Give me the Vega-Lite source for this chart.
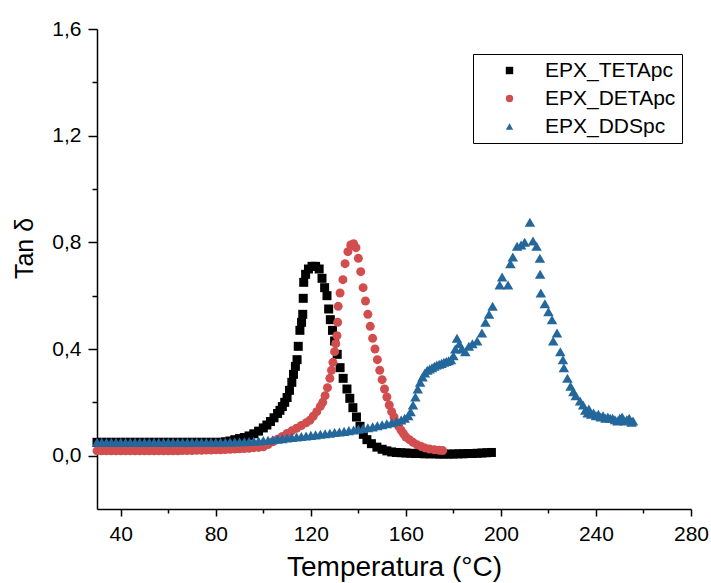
{
  "$schema": "https://vega.github.io/schema/vega-lite/v6.json",
  "autosize": "none",
  "width": 594,
  "height": 480,
  "padding": {"left": 97, "top": 29, "right": 20, "bottom": 74},
  "background": "white",
  "config": {
    "view": {"stroke": null},
    "font": "Liberation Sans",
    "axis": {"domainColor": "black", "domainWidth": 1.5, "tickColor": "black", "tickWidth": 1.5, "labelColor": "black", "titleColor": "black", "labelFont": "Liberation Sans", "titleFont": "Liberation Sans", "labelFontSize": 21, "titleFontSize": 28, "titleFontWeight": "normal", "grid": false},
    "legend": {"labelFont": "Liberation Sans", "labelFontSize": 21, "labelColor": "black"}
  },
  "datasets": {
    "teta": [
      {"t":30,"v":0.05},{"t":32,"v":0.05},{"t":34,"v":0.05},{"t":36,"v":0.05},{"t":38,"v":0.05},{"t":40,"v":0.05},{"t":42,"v":0.05},{"t":44,"v":0.05},{"t":46,"v":0.05},{"t":48,"v":0.05},{"t":50,"v":0.05},{"t":52,"v":0.05},{"t":54,"v":0.05},{"t":56,"v":0.05},{"t":58,"v":0.05},{"t":60,"v":0.05},{"t":62,"v":0.05},{"t":64,"v":0.05},{"t":66,"v":0.05},{"t":68,"v":0.05},{"t":70,"v":0.05},{"t":72,"v":0.05},{"t":74,"v":0.05},{"t":76,"v":0.05},{"t":78,"v":0.05},{"t":80,"v":0.05},{"t":82,"v":0.05},{"t":84,"v":0.052},
      {"t":86,"v":0.055},{"t":88,"v":0.06},{"t":90,"v":0.064},{"t":92,"v":0.068},{"t":94,"v":0.074},{"t":96,"v":0.082},{"t":98,"v":0.092},{"t":100,"v":0.104},{"t":101.5,"v":0.115},{"t":103,"v":0.128},{"t":104.5,"v":0.142},{"t":106,"v":0.158},{"t":107,"v":0.17},{"t":108,"v":0.184},{"t":109,"v":0.2},{"t":110,"v":0.218},{"t":111,"v":0.245},{"t":112,"v":0.275},{"t":112.7,"v":0.305},{"t":113.5,"v":0.335},{"t":114.2,"v":0.36},{"t":114.7,"v":0.41},{"t":115.4,"v":0.47},{"t":116.1,"v":0.5},{"t":116.6,"v":0.53},{"t":116.8,"v":0.59},{"t":117,"v":0.65},{"t":117.8,"v":0.68},{"t":119,"v":0.7},{"t":120.5,"v":0.71},{"t":122,"v":0.71},{"t":123.5,"v":0.7},{"t":124.7,"v":0.665},{"t":125.8,"v":0.63},{"t":126.8,"v":0.6},{"t":127.5,"v":0.55},{"t":128.2,"v":0.51},{"t":129.1,"v":0.47},{"t":130,"v":0.43},{"t":131.1,"v":0.38},{"t":132.3,"v":0.33},{"t":133.6,"v":0.29},{"t":135.2,"v":0.25},{"t":136.4,"v":0.215},{"t":137.7,"v":0.18},{"t":139.2,"v":0.145},{"t":140.7,"v":0.11},{"t":142.1,"v":0.08},{"t":143.6,"v":0.06},{"t":145.5,"v":0.045},{"t":147.8,"v":0.032},{"t":150,"v":0.024},{"t":152,"v":0.018},{"t":154,"v":0.014},{"t":156,"v":0.012},{"t":158,"v":0.011},{"t":160,"v":0.01},{"t":162,"v":0.009},{"t":164,"v":0.008},{"t":166,"v":0.008},{"t":168,"v":0.007},{"t":170,"v":0.007},{"t":172,"v":0.007},{"t":174,"v":0.006},{"t":176,"v":0.006},{"t":178,"v":0.006},{"t":180,"v":0.006},{"t":182,"v":0.007},{"t":184,"v":0.007},{"t":186,"v":0.008},{"t":188,"v":0.008},{"t":190,"v":0.009},{"t":192,"v":0.01},{"t":194,"v":0.011},{"t":196,"v":0.012}
    ],
    "deta": [
      {"t":30,"v":0.018},{"t":32,"v":0.018},{"t":34,"v":0.018},{"t":36,"v":0.018},{"t":38,"v":0.018},{"t":40,"v":0.018},{"t":42,"v":0.018},{"t":44,"v":0.018},{"t":46,"v":0.018},{"t":48,"v":0.018},{"t":50,"v":0.018},{"t":52,"v":0.018},{"t":54,"v":0.018},{"t":56,"v":0.018},{"t":58,"v":0.018},{"t":60,"v":0.018},{"t":62,"v":0.018},{"t":64,"v":0.018},{"t":66,"v":0.019},{"t":68,"v":0.019},{"t":70,"v":0.019},{"t":72,"v":0.02},{"t":74,"v":0.02},{"t":76,"v":0.021},{"t":78,"v":0.021},{"t":80,"v":0.022},{"t":82,"v":0.022},{"t":84,"v":0.023},{"t":86,"v":0.024},{"t":88,"v":0.025},{"t":90,"v":0.026},{"t":92,"v":0.027},{"t":94,"v":0.028},{"t":96,"v":0.03},{"t":98,"v":0.031},
      {"t":100,"v":0.033},{"t":102,"v":0.042},{"t":104,"v":0.052},{"t":106,"v":0.062},{"t":108,"v":0.072},{"t":110,"v":0.083},{"t":112,"v":0.093},{"t":114,"v":0.103},{"t":116,"v":0.113},{"t":118,"v":0.123},{"t":119.6,"v":0.133},{"t":121,"v":0.148},{"t":122.5,"v":0.165},{"t":124,"v":0.185},{"t":125,"v":0.2},{"t":126,"v":0.225},{"t":127,"v":0.255},{"t":128,"v":0.29},{"t":128.7,"v":0.32},{"t":129.3,"v":0.35},{"t":130,"v":0.39},{"t":130.5,"v":0.42},{"t":131,"v":0.45},{"t":131.3,"v":0.5},{"t":131.5,"v":0.56},{"t":132.3,"v":0.61},{"t":133.5,"v":0.66},{"t":134.4,"v":0.72},{"t":135.6,"v":0.765},{"t":136.8,"v":0.79},{"t":138,"v":0.795},{"t":139,"v":0.78},{"t":140,"v":0.74},{"t":141,"v":0.69},{"t":142,"v":0.63},{"t":143,"v":0.58},{"t":144,"v":0.53},{"t":145,"v":0.485},{"t":146,"v":0.44},{"t":147,"v":0.4},{"t":148,"v":0.36},{"t":149,"v":0.32},{"t":150,"v":0.285},{"t":151,"v":0.25},{"t":152,"v":0.22},{"t":153,"v":0.19},{"t":154,"v":0.165},{"t":155,"v":0.145},{"t":156,"v":0.125},{"t":157,"v":0.11},{"t":158,"v":0.095},{"t":159,"v":0.082},{"t":160,"v":0.07},{"t":161.5,"v":0.06},{"t":163,"v":0.05},{"t":164.7,"v":0.041},{"t":166.5,"v":0.034},{"t":168,"v":0.029},{"t":170,"v":0.025},{"t":172,"v":0.022},{"t":174,"v":0.02},{"t":175.5,"v":0.019}
    ],
    "dds": [
      {"t":30,"v":0.05},{"t":32,"v":0.05},{"t":34,"v":0.05},{"t":36,"v":0.05},{"t":38,"v":0.05},{"t":40,"v":0.05},{"t":42,"v":0.05},{"t":44,"v":0.05},{"t":46,"v":0.05},{"t":48,"v":0.05},{"t":50,"v":0.05},{"t":52,"v":0.05},{"t":54,"v":0.05},{"t":56,"v":0.05},{"t":58,"v":0.05},{"t":60,"v":0.05},{"t":62,"v":0.05},{"t":64,"v":0.05},{"t":66,"v":0.05},{"t":68,"v":0.05},{"t":70,"v":0.05},{"t":72,"v":0.05},{"t":74,"v":0.05},{"t":76,"v":0.05},{"t":78,"v":0.05},{"t":80,"v":0.05},{"t":82,"v":0.05},{"t":84,"v":0.05},{"t":86,"v":0.051},{"t":88,"v":0.051},{"t":90,"v":0.052},
      {"t":92,"v":0.052},{"t":94,"v":0.053},{"t":96,"v":0.054},{"t":98,"v":0.055},{"t":100,"v":0.057},{"t":102,"v":0.058},{"t":104,"v":0.06},{"t":106,"v":0.062},{"t":108,"v":0.064},{"t":110,"v":0.066},{"t":112,"v":0.068},{"t":114,"v":0.07},{"t":116,"v":0.072},{"t":118,"v":0.074},{"t":120,"v":0.076},{"t":122,"v":0.078},{"t":124,"v":0.08},{"t":126,"v":0.082},{"t":128,"v":0.084},{"t":130,"v":0.087},{"t":132,"v":0.089},{"t":134,"v":0.091},{"t":136,"v":0.094},{"t":138,"v":0.096},{"t":140,"v":0.099},{"t":142,"v":0.102},{"t":144,"v":0.105},{"t":146,"v":0.108},{"t":148,"v":0.112},{"t":150,"v":0.116},{"t":152,"v":0.12},{"t":154,"v":0.124},{"t":156,"v":0.128},{"t":158,"v":0.134},{"t":159.5,"v":0.14},{"t":161,"v":0.15},{"t":162,"v":0.165},{"t":163,"v":0.19},{"t":164,"v":0.22},{"t":165,"v":0.25},{"t":166,"v":0.275},{"t":167,"v":0.295},{"t":168,"v":0.31},{"t":169,"v":0.32},{"t":170,"v":0.325},{"t":171,"v":0.33},{"t":172,"v":0.335},{"t":173,"v":0.34},{"t":174,"v":0.343},{"t":175,"v":0.346},{"t":176,"v":0.35},{"t":177,"v":0.353},{"t":178,"v":0.356},{"t":179,"v":0.36},{"t":180,"v":0.375},{"t":180.8,"v":0.4},{"t":181.5,"v":0.44},{"t":182.5,"v":0.42},{"t":183.5,"v":0.4},{"t":185,"v":0.39},{"t":186.5,"v":0.41},{"t":188,"v":0.42},{"t":190,"v":0.43},{"t":192,"v":0.46},{"t":193.5,"v":0.5},{"t":195,"v":0.53},{"t":196.5,"v":0.56},{"t":199.5,"v":0.64},{"t":200.5,"v":0.67},{"t":203,"v":0.64},{"t":204,"v":0.72},{"t":205,"v":0.745},{"t":206.8,"v":0.785},{"t":208.5,"v":0.79},{"t":210,"v":0.8},{"t":212.2,"v":0.875},{"t":213.5,"v":0.805},{"t":215,"v":0.785},{"t":216.4,"v":0.74},{"t":216.5,"v":0.68},{"t":216.8,"v":0.61},{"t":218.5,"v":0.57},{"t":220,"v":0.54},{"t":221.5,"v":0.51},{"t":222,"v":0.43},{"t":223.6,"v":0.46},{"t":225,"v":0.39},{"t":226.1,"v":0.36},{"t":226.5,"v":0.33},{"t":228,"v":0.29},{"t":229.3,"v":0.26},{"t":230.5,"v":0.24},{"t":231.5,"v":0.225},{"t":233.3,"v":0.205},{"t":234.6,"v":0.19},{"t":235.5,"v":0.17},{"t":236.5,"v":0.16},{"t":237,"v":0.175},{"t":238,"v":0.155},{"t":239,"v":0.16},{"t":240,"v":0.15},{"t":241,"v":0.155},{"t":242,"v":0.145},{"t":243,"v":0.15},{"t":244,"v":0.14},{"t":245,"v":0.145},{"t":246,"v":0.14},{"t":247,"v":0.14},{"t":248,"v":0.135},{"t":249,"v":0.13},{"t":250,"v":0.14},{"t":251,"v":0.145},{"t":252,"v":0.13},{"t":253,"v":0.135},{"t":254,"v":0.14},{"t":255,"v":0.125},{"t":255.6,"v":0.13}
    ]
  },
  "encoding": {
    "x": {"field": "t", "type": "quantitative", "scale": {"domain": [30, 280], "nice": false, "zero": false},
      "axis": {"title": "Temperatura (°C)", "values": [40,60,80,100,120,140,160,180,200,220,240,260,280],
        "labelExpr": "datum.value % 40 === 0 ? datum.label : ''",
        "tickSize": {"condition": {"test": "datum.value % 40 === 0", "value": 7}, "value": 4},
        "labelPadding": 7, "titlePadding": 9, "labelFlush": false}},
    "y": {"field": "v", "type": "quantitative", "scale": {"domain": [-0.2, 1.6], "nice": false, "zero": false},
      "axis": {"title": "Tan δ", "titleFontSize": 25, "values": [0,0.2,0.4,0.6,0.8,1.0,1.2,1.4,1.6],
        "labelExpr": "round(datum.value*10) % 4 === 0 ? replace(format(datum.value, '.1f'), '.', ',') : ''",
        "tickSize": {"condition": {"test": "round(datum.value*10) % 4 === 0", "value": 9}, "value": 5},
        "labelPadding": 7, "titleX": -60, "titleY": 219, "labelFlush": false}}
  },
  "layer": [
    {"data": {"name": "teta"}, "mark": {"type": "point", "filled": true, "opacity": 1, "size": 81},
     "encoding": {
       "color": {"datum": "EPX_TETApc", "scale": {"domain": ["EPX_TETApc", "EPX_DETApc", "EPX_DDSpc"], "range": ["#000000", "#d24e4e", "#23679b"]},
         "legend": {"title": null, "orient": "none", "legendX": 376, "legendY": 25, "strokeColor": "black", "fillColor": "white", "padding": 6, "symbolSize": 55, "symbolOffset": 20, "labelOffset": 25, "rowPadding": 6, "symbolStrokeWidth": 0}},
       "shape": {"datum": "EPX_TETApc", "scale": {"domain": ["EPX_TETApc", "EPX_DETApc", "EPX_DDSpc"], "range": ["square", "circle", "triangle-up"]}, "legend": null}}},
    {"data": {"name": "deta"}, "mark": {"type": "point", "filled": true, "opacity": 1, "size": 81},
     "encoding": {"color": {"datum": "EPX_DETApc"}, "shape": {"datum": "EPX_DETApc"}}},
    {"data": {"name": "dds"}, "mark": {"type": "point", "filled": true, "opacity": 1, "size": 110},
     "encoding": {"color": {"datum": "EPX_DDSpc"}, "shape": {"datum": "EPX_DDSpc"}}}
  ]
}
